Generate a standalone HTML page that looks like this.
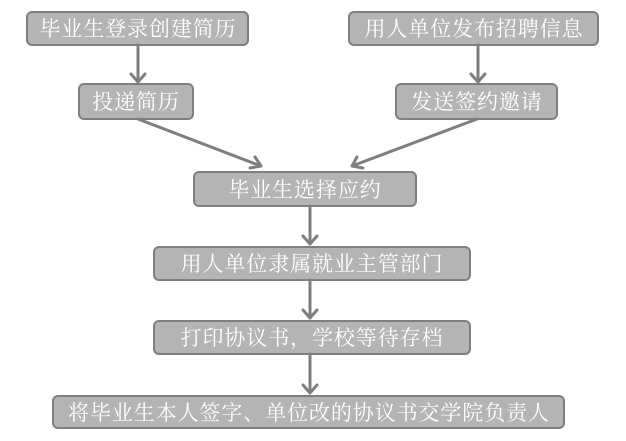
<!DOCTYPE html>
<html><head><meta charset="utf-8"><style>
html,body{margin:0;padding:0;background:#fff;}
svg{display:block;}
text{font-family:"Noto Serif CJK SC","Liberation Serif","Noto Sans CJK SC",serif;font-size:21px;fill:#fff;text-anchor:middle;letter-spacing:0.9px;}
</style></head><body>
<svg width="626" height="441" viewBox="0 0 626 441" xmlns="http://www.w3.org/2000/svg">
<g fill="#b4b4b4" stroke="#7f7f7f" stroke-width="2">
<rect x="27" y="12" width="221" height="33" rx="5"/>
<rect x="79" y="84" width="114" height="35" rx="5"/>
<rect x="349" y="12" width="249" height="33" rx="5"/>
<rect x="396" y="84" width="161" height="35" rx="5"/>
<rect x="194" y="172" width="222" height="34" rx="5"/>
<rect x="154" y="247" width="316" height="33" rx="5"/>
<rect x="154" y="321" width="316" height="33" rx="5"/>
<rect x="53" y="396" width="511" height="32" rx="5"/>
</g>
<g fill="none" stroke="#7f7f7f" stroke-width="3" stroke-linecap="round" stroke-linejoin="round">
<path d="M138 45 L138 82 M131 74 L138 82 L145 74"/>
<path d="M478 45 L478 82 M471 74 L478 82 L485 74"/>
<path d="M138 119 L261 166 M250 168 L261 166 L255 157"/>
<path d="M477 119 L352 166 M357 157 L352 166 L363 168"/>
<path d="M310 206 L310 244 M303 236 L310 244 L317 236"/>
<path d="M310 280 L310 318 M303 310 L310 318 L317 310"/>
<path d="M310 354 L310 393 M303 385 L310 393 L317 385"/>
</g>
<text x="138" y="36">毕业生登录创建简历</text>
<text x="136" y="109">投递简历</text>
<text x="474" y="36">用人单位发布招聘信息</text>
<text x="477" y="109">发送签约邀请</text>
<text x="305" y="197">毕业生选择应约</text>
<text x="312" y="271">用人单位隶属就业主管部门</text>
<text x="312" y="345">打印协议书，学校等待存档</text>
<text x="309" y="420">将毕业生本人签字、单位改的协议书交学院负责人</text>
</svg>
</body></html>
